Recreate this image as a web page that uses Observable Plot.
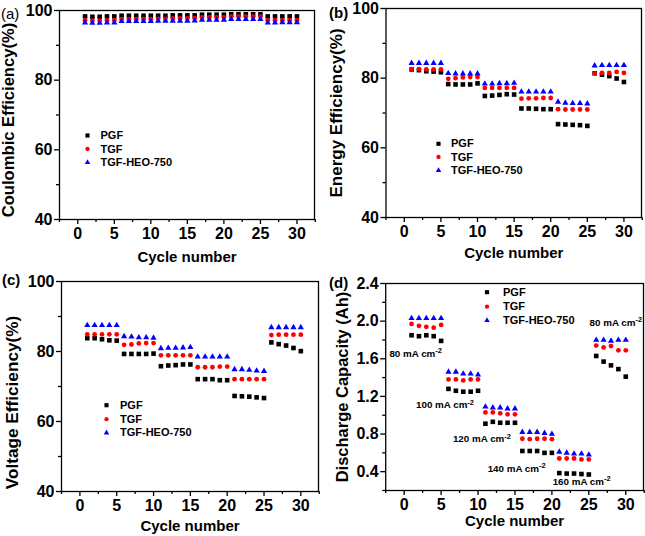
<!DOCTYPE html>
<html><head><meta charset="utf-8">
<script src="https://cdn.jsdelivr.net/npm/d3@7"></script>
<script src="https://cdn.jsdelivr.net/npm/@observablehq/plot@0.6"></script>
<style>
body{margin:0;background:#fff;}
#fig{position:relative;width:645px;height:536px;overflow:hidden;background:#fff;font-family:"Liberation Sans",Arial,sans-serif;}
.panel{position:absolute;}
.tag{position:absolute;font-size:15px;line-height:15px;color:#000;}
</style></head><body><div id="fig"></div>
<script>
// ---------- data ----------
const cycles = [1,2,3,4,5,6,7,8,9,10,11,12,13,14,15,16,17,18,19,20,21,22,23,24,25,26,27,28,29,30];
const seriesNames = ["PGF", "TGF", "TGF-HEO-750"];

// (a) Coulombic efficiency (%)
const ceP = [98.3,98.2,98.2,98.3,98.3, 98.5,98.5,98.5,98.5,98.5, 98.5,98.5,98.6,98.6,98.6, 98.6,98.8,98.8,98.8,98.8, 98.9,98.9,98.9,98.9,98.9, 98.3,98.3,98.3,98.3,98.3];
const ceT = [97.2,97.1,97.1,97.2,97.2, 97.5,97.5,97.5,97.5,97.5, 97.6,97.6,97.7,97.7,97.7, 97.8,98.0,98.0,98.0,98.0, 98.2,98.2,98.2,98.2,98.2, 97.2,97.2,97.2,97.2,97.2];
const ceH = [96.5,96.4,96.4,96.5,96.5, 96.9,96.9,96.9,96.9,96.9, 97.0,97.0,97.0,97.0,97.0, 97.1,97.3,97.3,97.3,97.3, 97.5,97.5,97.5,97.5,97.5, 96.5,96.5,96.6,96.6,96.6];

// (b) Energy efficiency (%)
const eeP = [82.5,82.3,82.0,81.9,81.7, 78.3,78.2,78.2,78.2,78.5, 74.9,75.0,75.2,75.4,75.3, 71.3,71.3,71.2,71.1,71.1, 66.8,66.7,66.6,66.5,66.3, 81.4,81.0,80.6,79.9,78.9];
const eeT = [82.6,82.6,82.5,82.5,82.5, 79.8,80.0,80.2,80.3,80.3, 77.2,77.2,77.2,77.2,77.2, 74.1,74.2,74.2,74.3,74.3, 71.1,71.0,71.0,71.0,71.0, 81.4,81.5,81.5,81.8,81.5];
const eeH = [84.3,84.3,84.3,84.3,84.3, 81.4,81.3,81.3,81.3,81.3, 78.4,78.4,78.5,78.5,78.6, 76.1,76.1,76.1,76.1,76.1, 73.2,72.9,72.8,72.8,72.7, 83.6,83.7,83.7,83.7,83.7];

// (c) Voltage efficiency (%)
const veP = [83.8,83.8,83.5,83.2,83.1, 79.3,79.3,79.3,79.3,79.4, 75.8,76.0,76.1,76.3,76.3, 72.1,72.1,72.1,71.8,71.8, 67.3,67.2,67.1,66.9,66.7, 82.6,82.1,81.7,81.0,80.1];
const veT = [84.9,84.9,84.9,84.9,84.9, 81.9,82.0,82.3,82.4,82.4, 78.9,78.9,78.9,78.9,78.9, 75.5,75.5,75.5,75.7,75.7, 72.1,72.1,72.1,72.1,72.1, 84.7,84.8,84.8,84.8,84.8];
const veH = [87.5,87.5,87.5,87.5,87.5, 84.3,84.2,84.0,84.0,83.9, 80.9,81.0,81.0,81.1,81.2, 78.5,78.5,78.5,78.5,78.5, 74.9,74.9,74.7,74.5,74.4, 86.9,86.9,86.9,86.9,86.9];

// (d) Discharge capacity (Ah)
const dcP = [1.85,1.84,1.85,1.84,1.79, 1.28,1.26,1.25,1.25,1.26, 0.91,0.93,0.92,0.92,0.92, 0.62,0.62,0.62,0.60,0.60, 0.385,0.38,0.38,0.375,0.37, 1.63,1.57,1.53,1.49,1.41];
const dcT = [1.97,1.95,1.94,1.93,1.96, 1.38,1.38,1.37,1.38,1.38, 1.03,1.03,1.02,1.01,1.01, 0.75,0.745,0.75,0.75,0.745, 0.54,0.54,0.54,0.53,0.53, 1.74,1.72,1.735,1.69,1.69];
const dcH = [2.03,2.03,2.03,2.03,2.03, 1.46,1.46,1.44,1.44,1.43, 1.09,1.08,1.08,1.07,1.07, 0.82,0.82,0.82,0.81,0.80, 0.61,0.60,0.59,0.59,0.58, 1.80,1.80,1.79,1.80,1.80];

// current-density annotations in (d): label, anchor cycle, anchor capacity
const annLabels = ["80 mA cm-2", "100 mA cm-2", "120 mA cm-2", "140 mA cm-2", "160 mA cm-2", "80 mA cm-2"];
const annCycle  = [-2.0, 1.6, 6.6, 11.3, 20.1, 25.1];
const annCap    = [1.656, 1.107, 0.745, 0.434, 0.293, 1.986];

// tick labels
const xMajor = [0,5,10,15,20,25,30];
const xMinor = [-2.5,2.5,7.5,12.5,17.5,22.5,27.5,32.5];
const pctMajor = [40,60,80,100];
const pctMinor = [50,70,90];
const capMajor = [0.4,0.8,1.2,1.6,2.0,2.4];
const capMinor = [0.2,0.6,1.0,1.4,1.8,2.2];
const xLabel = "Cycle number";
const yLabels = ["Coulombic Efficiency(%)", "Energy Efficiency(%)", "Voltage Efficiency(%)", "Discharge Capacity (Ah)"];
const tags = ["(a)", "(b)", "(c)", "(d)"];

// ---------- drawing ----------
const symbols = ["square", "circle", "triangle"];
const colors = ["#000000", "#ff0000", "#0000ff"];
const radii = [2.6, 2.4, 2.3];

const panels = [
  {left:0,   top:0,   width:322, mL:59,   mR:8, mT:10, mB:49, yDomain:[40,100], yMajor:pctMajor, yMinor:pctMinor, fmt:d3.format("d"),
   yLabel:yLabels[0], yLabelX:8.5, yLabelDy:5, yLabelSize:16.6, xLabelDy:38, legX:87, legTX:100, legRows:[135,148.5,162], series:[ceP,ceT,ceH]},
  {left:322, top:0,   width:323, mL:63.5, mR:4, mT:8,  mB:51, yDomain:[40,100], yMajor:pctMajor, yMinor:pctMinor, fmt:d3.format("d"),
   yLabel:yLabels[1], yLabelX:14, yLabelDy:0, yLabelSize:17, xLabelDy:36, legX:116, legTX:128.5, legRows:[143.3,156.5,170], series:[eeP,eeT,eeH]},
  {left:0,   top:268, width:322, mL:61,   mR:4, mT:13, mB:45, yDomain:[40,100], yMajor:pctMajor, yMinor:pctMinor, fmt:d3.format("d"),
   yLabel:yLabels[2], yLabelX:11.5, yLabelDy:16, yLabelSize:17.2, xLabelDy:34.5, legX:106, legTX:119.5, legRows:[136.7,150.7,164.3], series:[veP,veT,veH]},
  {left:322, top:268, width:323, mL:63.2, mR:2, mT:15, mB:46, yDomain:[0.2,2.4], yMajor:capMajor, yMinor:capMinor, fmt:d3.format(".1f"),
   yLabel:yLabels[3], yLabelX:20, yLabelDy:0, yLabelSize:16.5, xLabelDy:31, legX:164.5, legTX:180.5, legRows:[23.7,38.2,52], series:[dcP,dcT,dcH], ann:true}
];

const fig = document.getElementById("fig");

panels.forEach((p, pi) => {
  const marks = [];
  const strokeW = 1.3;
  // minor ticks
  marks.push(Plot.axisX(xMinor, {tickSize: 3, text: null, label: null, strokeWidth: strokeW}));
  marks.push(Plot.axisY(p.yMinor, {tickSize: 3, text: null, label: null, strokeWidth: strokeW}));
  // major ticks
  marks.push(Plot.axisX(xMajor, {tickSize: 5, tickPadding: 3, fontSize: 16, fontWeight: "bold", label: null, strokeWidth: strokeW}));
  marks.push(Plot.axisY(p.yMajor, {tickSize: 5, tickPadding: 2, fontSize: 16, fontWeight: "bold", tickFormat: p.fmt, label: null, strokeWidth: strokeW}));
  marks.push(Plot.frame({stroke: "black", strokeWidth: strokeW}));
  // axis titles
  marks.push(Plot.text([xLabel], {frameAnchor: "bottom", dy: p.xLabelDy, lineAnchor: "middle", textAnchor: "middle", fontSize: 15, fontWeight: "bold"}));
  marks.push(Plot.text([p.yLabel], {frameAnchor: "left", dx: p.yLabelX - p.mL, dy: p.yLabelDy, rotate: -90, lineAnchor: "middle", textAnchor: "middle", fontSize: p.yLabelSize, fontWeight: "bold"}));
  // data
  p.series.forEach((vals, si) => {
    marks.push(Plot.dot(cycles, {x: d => d, y: (d, i) => vals[i], symbol: symbols[si], fill: colors[si], r: radii[si]}));
  });
  // legend
  seriesNames.forEach((name, si) => {
    marks.push(Plot.dot([name], {frameAnchor: "top-left", dx: p.legX - p.mL, dy: p.legRows[si] - p.mT, symbol: symbols[si], fill: colors[si], r: radii[si] * 0.9}));
    marks.push(Plot.text([name], {frameAnchor: "top-left", dx: p.legTX - p.mL, dy: p.legRows[si] - p.mT, textAnchor: "start", lineAnchor: "middle", fontSize: 11, fontWeight: "bold"}));
  });
  if (p.ann) {
    marks.push(Plot.text(annLabels, {x: (d, i) => annCycle[i], y: (d, i) => annCap[i], text: d => d, textAnchor: "start", lineAnchor: "middle", fontSize: 9.8, fontWeight: "bold"}));
  }
  const svg = Plot.plot({
    width: p.width, height: 268,
    marginLeft: p.mL, marginRight: p.mR, marginTop: p.mT, marginBottom: p.mB,
    x: {domain: [-2.5, 32.4], axis: null},
    y: {domain: p.yDomain, axis: null},
    style: {fontFamily: '"Liberation Sans", Arial, sans-serif', color: "black", background: "transparent", overflow: "visible"},
    marks
  });
  // superscripts for "cm-2"
  d3.select(svg).selectAll("text").filter(function () { return /cm-2$/.test(this.textContent); }).each(function () {
    const base = this.textContent.replace(/-2$/, "");
    this.textContent = base;
    d3.select(this).append("tspan").attr("dy", "-0.5em").attr("font-size", "0.75em").text("-2");
  });
  const div = document.createElement("div");
  div.className = "panel";
  div.style.left = p.left + "px";
  div.style.top = p.top + "px";
  div.appendChild(svg);
  fig.appendChild(div);
});

// panel tags
const tagPos = [[1, 6, "normal"], [329, 5, "bold"], [2, 272, "bold"], [329, 275, "bold"]];
tags.forEach((t, i) => {
  const s = document.createElement("span");
  s.className = "tag";
  s.textContent = t;
  s.style.left = tagPos[i][0] + "px";
  s.style.top = tagPos[i][1] + "px";
  s.style.fontWeight = tagPos[i][2];
  fig.appendChild(s);
});
</script>
</body></html>
